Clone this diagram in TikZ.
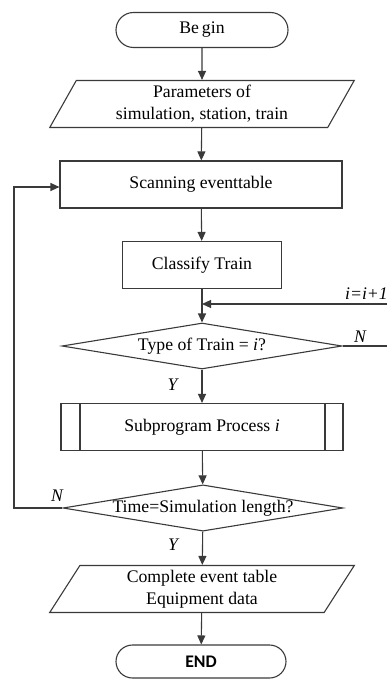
\documentclass[tikz,border=0pt]{standalone}
\usepackage{fontspec}
\setmainfont{Liberation Serif}
\newfontfamily\capfont{Carlito}
\usetikzlibrary{shapes.geometric,shapes.misc,arrows.meta}
\definecolor{linec}{HTML}{3A3A3A}

\begin{document}
\begin{tikzpicture}[x=1pt,y=-1pt,
  every node/.style={font=\fontsize{17.7}{22}\selectfont, text=black},
  outline/.style={draw=linec, line width=1.1pt},
  term/.style={outline, rounded rectangle, minimum width=172pt, minimum height=35pt, inner sep=0pt},
  iobox/.style={outline, trapezium, trapezium left angle=64, trapezium right angle=116,
    trapezium stretches=true, minimum width=305pt, minimum height=47pt, inner sep=0pt, align=center},
  procbox/.style={outline, rectangle, minimum height=47pt, inner sep=0pt},
  subbox/.style={procbox, path picture={
      \draw[linec, line width=1.1pt]
        ([xshift=19pt]path picture bounding box.north west) -- ([xshift=19pt]path picture bounding box.south west)
        ([xshift=-18pt]path picture bounding box.north east) -- ([xshift=-18pt]path picture bounding box.south east);}},
  decision/.style={outline, diamond, aspect=6, minimum width=280pt, minimum height=46pt, inner sep=0pt},
  flow/.style={draw=linec, line width=1.1pt, -{Triangle[length=9pt,width=8pt]}},
  tag/.style={font=\fontsize{17.7}{22}\selectfont\itshape, inner sep=0pt}
]
\path[use as bounding box] (0,0) rectangle (387,682);
\clip (0,0) rectangle (387,682);

% main column of the flowchart
\node[term] (begin) at (202,30) {Be\,gin};
\node[iobox] (params) at (202,104) {Parameters of\\simulation, station, train};
\node[procbox, minimum width=282pt] (scan) at (201,184.5) {Scanning eventtable};
\node[procbox, minimum width=159pt] (classify) at (202,265) {Classify Train};
\coordinate (merge) at (202,304);
\node[decision] (type) at (202,346) {Type of Train = \textit{i}?};
\node[subbox, minimum width=282pt] (sub) at (202,427) {Subprogram Process \textit{i}};
\node[decision, minimum height=45pt] (time) at (203,508) {Time=Simulation length?};
\node[iobox] (result) at (202,589) {Complete event table\\Equipment data};
\node[term, minimum width=170pt, minimum height=33pt, font=\capfont\bfseries\fontsize{17.7}{22}\selectfont] (finish) at (201,661.5) {END};

% straight connections
\draw[flow] (begin) -- (params);
\draw[flow] (params) -- (scan);
\draw[flow] (scan) -- (classify);
\draw[flow] (classify) -- (type);
\draw[flow] (type) -- node[tag, left=24pt, pos=0.45] {Y} (sub);
\draw[flow] (sub) -- (time);
\draw[flow] (time) -- node[tag, left=24pt, pos=0.4] {Y} (result);
\draw[flow] (result) -- (finish);

% loop back to the next train type
\coordinate (rightrail) at (392,346);
\draw[flow] (type.east) -- (rightrail) |- (merge);
\node[tag] at (360,337) {N};
\node[tag, anchor=west] at (345,294) {i=i+1};

% loop back to scanning until the end of simulation
\coordinate (leftrail) at (14,508);
\draw[flow] (time.west) -- (leftrail) |- (scan.west |- 0,187);
\node[tag] at (57,496) {N};
\end{tikzpicture}
\end{document}
